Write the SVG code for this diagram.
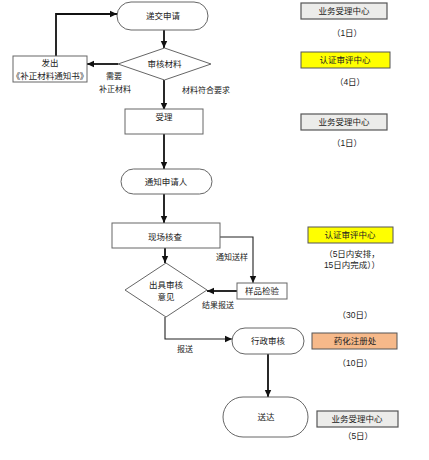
<svg xmlns="http://www.w3.org/2000/svg" width="429" height="460" viewBox="0 0 429 460">
<style>
text{font-family:"Liberation Sans","Noto Sans CJK SC",sans-serif;font-size:8.5px;fill:#222;text-anchor:middle;dominant-baseline:central}
.shape{fill:#fff;stroke:#666;stroke-width:1}
.gray{fill:#ececea;stroke:#555;stroke-width:1.2}
.yel{fill:#ffff00;stroke:#555;stroke-width:1}
.org{fill:#f6b98a;stroke:#555;stroke-width:1}
.c{fill:none;stroke:#111;stroke-width:1.8}
.t{fill:none;stroke:#222;stroke-width:1.1}
.lbl{font-size:8px}
</style>
<defs>
<marker id="ah" markerUnits="userSpaceOnUse" markerWidth="8" markerHeight="8" refX="7" refY="4" orient="auto">
<path d="M0,0.8 L7,4 L0,7.2 Z" fill="#111"/>
</marker>
</defs>
<rect width="429" height="460" fill="#fff"/>
<g id="connectors">
<path class="c" d="M164,30 V48" marker-end="url(#ah)"/>
<path class="c" d="M118,64 H87" marker-end="url(#ah)"/>
<path class="c" d="M56,56 V14 H117" marker-end="url(#ah)"/>
<path class="c" d="M164,80 V110" marker-end="url(#ah)"/>
<path class="c" d="M164,134 V169" marker-end="url(#ah)"/>
<path class="c" d="M164,194 V223" marker-end="url(#ah)"/>
<path class="t" d="M220,237 H253 V283" marker-end="url(#ah)"/>
<path class="c" d="M165,248 V263" marker-end="url(#ah)"/>
<path class="c" d="M237,291 H207" marker-end="url(#ah)"/>
<path class="t" d="M165,317 V339 H232" marker-end="url(#ah)"/>
<path class="c" d="M268,354 V397" marker-end="url(#ah)"/>
<text class="lbl" x="114" y="76">需要</text>
<text class="lbl" x="115" y="89">补正材料</text>
<text class="lbl" x="206" y="90">材料符合要求</text>
<text class="lbl" x="232" y="257">通知送样</text>
<text class="lbl" x="218" y="305">结果报送</text>
<text class="lbl" x="185" y="349">报送</text>
</g>
<g id="submit"><rect class="shape" x="117" y="2" width="91" height="28" rx="14"/><text x="163" y="16">递交申请</text></g>
<g id="review"><path class="shape" d="M164.5,48 L211,64 L164.5,80 L118,64 Z"/><text x="164.5" y="64">审核材料</text></g>
<g id="notice"><rect class="shape" x="13" y="56" width="74" height="26"/><text x="50" y="63">发出</text><text x="50" y="76">《补正材料通知书》</text></g>
<g id="accept"><rect class="shape" x="125" y="109" width="78" height="25"/><text x="164" y="117">受理</text></g>
<g id="inform"><rect class="shape" x="121" y="169" width="91" height="25" rx="12.5"/><text x="166" y="182">通知申请人</text></g>
<g id="inspect"><rect class="shape" x="112" y="223" width="108" height="25"/><text x="165" y="237">现场核查</text></g>
<g id="sample"><rect class="shape" x="237" y="283" width="50" height="16"/><text x="262" y="291">样品检验</text></g>
<g id="opinion"><path class="shape" d="M166,263 L207,290 L166,317 L125,290 Z"/><text x="166" y="285">出具审核</text><text x="166" y="297">意见</text></g>
<g id="admin"><rect class="shape" x="232" y="328" width="72" height="26" rx="13"/><text x="268" y="341">行政审核</text></g>
<g id="deliver"><rect class="shape" x="223" y="397" width="85" height="40" rx="20"/><text x="266" y="417">送达</text></g>
<g id="side1"><rect class="gray" x="301" y="3" width="86" height="16"/><text x="344" y="11">业务受理中心</text><text x="347" y="33">（1日）</text></g>
<g id="side2"><rect class="yel" x="301" y="52" width="89" height="16"/><text x="345" y="60">认证审评中心</text><text x="350" y="82">（4日）</text></g>
<g id="side3"><rect class="gray" x="301" y="114" width="86" height="16"/><text x="344" y="122">业务受理中心</text><text x="347" y="143">（1日）</text></g>
<g id="side4"><rect class="yel" x="308" y="227" width="85" height="16"/><text x="350" y="235">认证审评中心</text><text x="352" y="254">（5日内安排，</text><text x="352" y="265">15日内完成））</text><text x="355" y="315">（30日）</text></g>
<g id="side5"><rect class="org" x="312" y="333" width="85" height="16"/><text x="355" y="341">药化注册处</text><text x="355" y="363">（10日）</text></g>
<g id="side6"><rect class="gray" x="317" y="411" width="81" height="16"/><text x="357" y="419">业务受理中心</text><text x="358" y="436">（5日）</text></g>
</svg>
